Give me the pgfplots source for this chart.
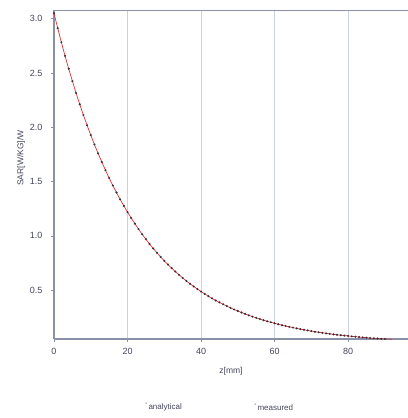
\documentclass[border=0pt]{standalone}
\usepackage{pgfplots}
\pgfplotsset{compat=1.18}
\usepackage{fontspec}
\setmainfont{Liberation Sans}
\definecolor{axcol}{HTML}{8A90A8}
\definecolor{gridcol}{HTML}{CDD2E2}
\definecolor{txtcol}{HTML}{44465A}
\definecolor{meascol}{HTML}{2E2E3C}
\definecolor{anacol}{HTML}{E03030}
\begin{document}
\begin{tikzpicture}
\begin{axis}[
  scale only axis,
  width=354pt, height=329pt,
  xmin=0, xmax=96.3, ymin=0.05, ymax=3.08,
  xtick={0,20,40,60,80},
  ytick={0.5,1.0,1.5,2.0,2.5,3.0},
  yticklabel style={xshift=-5pt, /pgf/number format/.cd,fixed,fixed zerofill,precision=1},
  /pgf/number format/assume math mode=true,
  tick label style={font=\fontsize{9}{10}\selectfont, text=txtcol},
  xticklabel style={yshift=-3pt},
  label style={font=\fontsize{8.5}{10}\selectfont, text=txtcol},
  xlabel={z[mm]}, ylabel={SAR[W/KG]/W},
  xlabel style={yshift=-6pt},
  ylabel style={at={(ticklabel cs:0.55)}, yshift=-2pt},
  axis x line*=bottom, axis y line*=left,
  axis line style={axcol, line width=1.2pt},
  tick style={axcol, line width=0.6pt},
  tick align=outside, major tick length=3pt,
  xmajorgrids, grid style={gridcol, line width=0.6pt},
  clip=false,
]
\addplot[anacol, line width=0.7pt, smooth] coordinates {
(0,3.050)(2,2.783)(4,2.539)(6,2.316)(8,2.113)(10,1.928)(12,1.759)(14,1.605)(16,1.464)(18,1.336)(20,1.219)(22,1.112)(24,1.014)(26,0.925)(28,0.844)(30,0.770)(32,0.703)(34,0.641)(36,0.585)(38,0.534)(40,0.487)(42,0.444)(44,0.405)(46,0.370)(48,0.337)(50,0.308)(52,0.281)(54,0.256)(56,0.234)(58,0.213)(60,0.195)(62,0.177)(64,0.162)(66,0.148)(68,0.135)(70,0.123)(72,0.112)(74,0.102)(76,0.093)(78,0.085)(80,0.078)(82,0.071)(84,0.065)(86,0.059)(88,0.054)(90,0.050)(92,0.048)
};
\addplot[only marks, mark=*, mark size=0.8pt, meascol] coordinates {
(0,3.050)(1,2.913)(2,2.783)(3,2.658)(4,2.539)(5,2.425)(6,2.316)(7,2.212)(8,2.113)(9,2.018)(10,1.928)(11,1.842)(12,1.759)(13,1.680)(14,1.605)(15,1.533)(16,1.464)(17,1.399)(18,1.336)(19,1.276)(20,1.219)(21,1.164)(22,1.112)(23,1.062)(24,1.014)(25,0.969)(26,0.925)(27,0.884)(28,0.844)(29,0.806)(30,0.770)(31,0.736)(32,0.703)(33,0.671)(34,0.641)(35,0.612)(36,0.585)(37,0.559)(38,0.534)(39,0.510)(40,0.487)(41,0.465)(42,0.444)(43,0.424)(44,0.405)(45,0.387)(46,0.370)(47,0.353)(48,0.337)(49,0.322)(50,0.308)(51,0.294)(52,0.281)(53,0.268)(54,0.256)(55,0.245)(56,0.234)(57,0.223)(58,0.213)(59,0.204)(60,0.195)(61,0.186)(62,0.177)(63,0.170)(64,0.162)(65,0.155)(66,0.148)(67,0.141)(68,0.135)(69,0.129)(70,0.123)(71,0.117)(72,0.112)(73,0.107)(74,0.102)(75,0.098)(76,0.093)(77,0.089)(78,0.085)(79,0.081)(80,0.078)(81,0.074)(82,0.071)(83,0.068)(84,0.065)(85,0.062)(86,0.059)(87,0.056)(88,0.054)(89,0.052)(90,0.050)
};
\draw[axcol, line width=1pt] (rel axis cs:0,1) -- (rel axis cs:1,1);
\node[font=\fontsize{8}{9}\selectfont, text=txtcol, anchor=west] at ([xshift=88pt,yshift=-68pt]rel axis cs:0,0) {\raisebox{3pt}{\tiny\textquotedblleft}\,analytical};
\node[font=\fontsize{8}{9}\selectfont, text=txtcol, anchor=west] at ([xshift=197pt,yshift=-68pt]rel axis cs:0,0) {\raisebox{3pt}{\tiny\textquotedblleft}\,measured};
\end{axis}
\pgfresetboundingbox
\useasboundingbox ([xshift=-54pt,yshift=-79pt]current axis.south west) rectangle ([yshift=10pt]current axis.north east);
\end{tikzpicture}
\end{document}
